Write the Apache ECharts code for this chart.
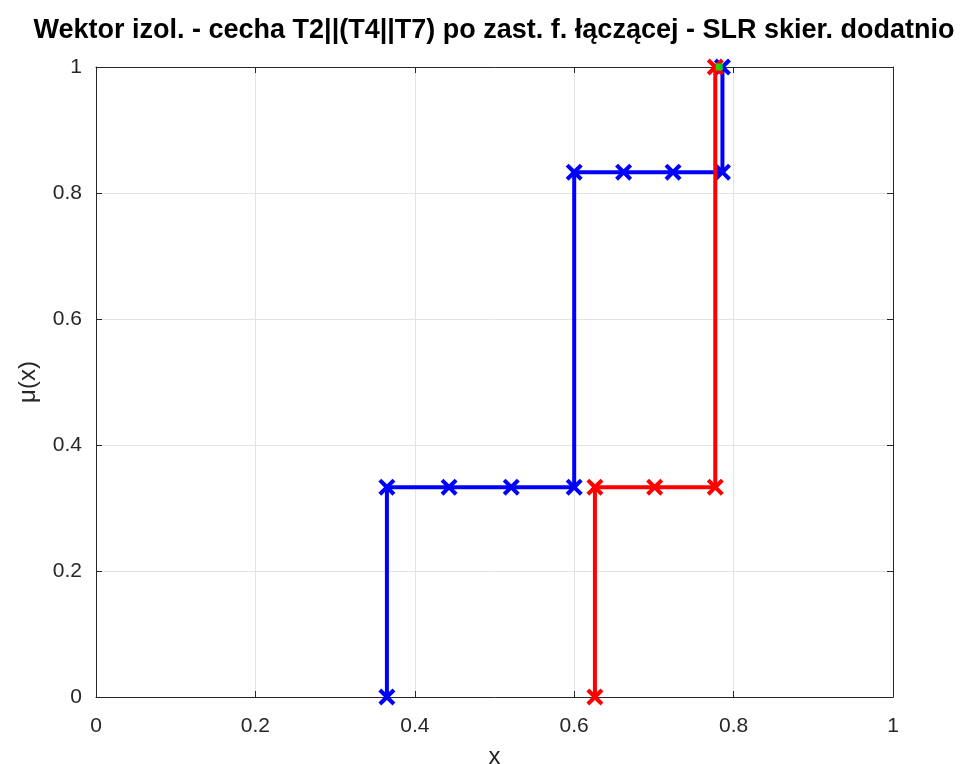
<!DOCTYPE html>
<html>
<head>
<meta charset="utf-8">
<script src="https://cdn.jsdelivr.net/npm/echarts@6/dist/echarts.min.js"></script>
<style>html,body{margin:0;padding:0;background:#fff;}#c{width:964px;height:764px;}</style>
</head>
<body>
<div id="c"></div>
<script>
const titleText = 'Wektor izol. - cecha T2||(T4||T7) po zast. f. łączącej - SLR skier. dodatnio';
const xTicks = [0, 0.2, 0.4, 0.6, 0.8, 1];
const yTicks = [0, 0.2, 0.4, 0.6, 0.8, 1];
const blueX = [0.365, 0.365, 0.443, 0.521, 0.600, 0.600, 0.662, 0.724, 0.786, 0.786];
const blueY = [0, 0.333, 0.333, 0.333, 0.333, 0.833, 0.833, 0.833, 0.833, 1];
const redX = [0.626, 0.626, 0.701, 0.777, 0.777];
const redY = [0, 0.333, 0.333, 0.333, 1];
const greenX = [0.782];
const greenY = [1];

const pair = (xs, ys) => xs.map((x, i) => [x, ys[i]]);
const t = 1.7;
const cross = 'path://M0,' + t + ' L' + t + ',0 L5,' + (5 - t) + ' L' + (10 - t) + ',0 L10,' + t + ' L' + (5 + t) + ',5 L10,' + (10 - t) + ' L' + (10 - t) + ',10 L5,' + (5 + t) + ' L' + t + ',10 L0,' + (10 - t) + ' L' + (5 - t) + ',5 Z';
const font = 'Liberation Sans, Arial, sans-serif';
const ink = '#262626';
const fmt = v => String(Math.round(v * 10) / 10);

const chart = echarts.init(document.getElementById('c'));
const axisCommon = {
  type: 'value', min: 0, max: 1, interval: 0.2,
  axisTick: { show: true, inside: true, length: 6, lineStyle: { color: ink } },
  axisLine: { show: true, onZero: false, lineStyle: { color: ink, width: 1 } },
};
chart.setOption({
  animation: false,
  title: {
    text: titleText, left: 489, top: 12, textAlign: 'center',
    textStyle: { fontFamily: font, fontSize: 27, fontWeight: 'bold', color: '#000' }
  },
  grid: { left: 96, right: 71, top: 67, bottom: 67, containLabel: false, outerBoundsMode: 'none' },
  xAxis: [
    Object.assign({}, axisCommon, {
      position: 'bottom',
      name: 'x', nameLocation: 'middle', nameGap: 48,
      nameTextStyle: { fontFamily: font, fontSize: 24, color: ink },
      axisLabel: { fontFamily: font, fontSize: 21, color: ink, margin: 19, formatter: fmt },
      splitLine: { show: true, lineStyle: { color: '#e3e3e3', width: 1 } }
    }),
    Object.assign({}, axisCommon, {
      position: 'top', axisLabel: { show: false }, splitLine: { show: false }
    })
  ],
  yAxis: [
    Object.assign({}, axisCommon, {
      position: 'left',
      name: 'μ(x)', nameLocation: 'middle', nameGap: 56,
      nameTextStyle: { fontFamily: font, fontSize: 24, color: ink },
      axisLabel: { fontFamily: font, fontSize: 21, color: ink, margin: 14, formatter: fmt },
      splitLine: { show: true, lineStyle: { color: '#e3e3e3', width: 1 } }
    }),
    Object.assign({}, axisCommon, {
      position: 'right', axisLabel: { show: false }, splitLine: { show: false }
    })
  ],
  series: [
    {
      type: 'line', data: pair(blueX, blueY), symbol: cross, symbolSize: 17,
      showAllSymbol: true, clip: false,
      lineStyle: { color: '#0000ff', width: 4 }, itemStyle: { color: '#0000ff' }, z: 2
    },
    {
      type: 'line', data: pair(redX, redY), symbol: cross, symbolSize: 17,
      showAllSymbol: true, clip: false,
      lineStyle: { color: '#ff0000', width: 4 }, itemStyle: { color: '#ff0000' }, z: 3
    },
    {
      type: 'scatter', data: pair(greenX, greenY), symbol: 'rect', symbolSize: 7,
      clip: false, itemStyle: { color: '#00ff00' }, z: 4
    }
  ]
});
</script>
</body>
</html>
